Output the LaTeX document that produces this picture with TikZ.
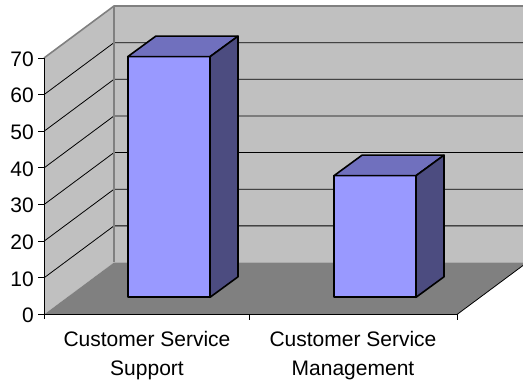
\documentclass[tikz,border=0pt]{standalone}
\usepackage{fontspec}
\setmainfont{Liberation Sans}
\definecolor{wallc}{RGB}{192,192,192}
\definecolor{floorc}{RGB}{128,128,128}
\definecolor{edgec}{RGB}{128,128,128}
\definecolor{barfront}{RGB}{153,153,255}
\definecolor{bartop}{RGB}{112,112,190}
\definecolor{barside}{RGB}{76,76,128}
\tikzset{
  grid/.style={draw=black,line width=0.8pt},
  wedge/.style={draw=edgec,line width=1.6pt},
  axisline/.style={draw=black,line width=1pt},
  barline/.style={draw=black,line width=1.6pt,line join=round},
  ylab/.style={anchor=east,inner sep=0pt,font=\fontsize{21}{25}\selectfont},
  xlab/.style={anchor=base,inner sep=0pt,font=\fontsize{21}{25}\selectfont},
}
\begin{document}
\begin{tikzpicture}[x=1pt,y=-1pt]
\useasboundingbox (0,0) rectangle (523,382);
\begin{scope}
\clip (0,0) rectangle (523,382);
% walls and floor
\fill[wallc] (44,58) -- (114,6) -- (114,262.5) -- (44,314.5) -- cycle;
\fill[wallc] (114,6) rectangle (540,262.5);
\fill[floorc] (44,314.5) -- (457,314.5) -- (527,262.5) -- (114,262.5) -- cycle;
% gridlines
\foreach \v in {10,20,...,60} {
  \draw[grid] (44,{314.5-3.664*\v}) -- (114,{262.5-3.664*\v}) -- (540,{262.5-3.664*\v});
}
% wall edges
\draw[wedge] (44,58) -- (114,6) -- (540,6);
\draw[wedge] (114,6) -- (114,262.5);
\draw[line width=0.8pt] (457,314.5) -- (527,262.5);
\end{scope}
% axes
\draw[axisline] (44,58) -- (44,319);
\draw[axisline] (44,314.5) -- (457,314.5);
\foreach \v in {0,10,...,70} {
  \draw[axisline] (38,{314.5-3.664*\v}) -- (44,{314.5-3.664*\v});
}
\draw[axisline] (249,314.5) -- (249,320);
\draw[axisline] (457,314.5) -- (457,320);
% y labels
\foreach \v in {0,10,...,70} {
  \node[ylab] (y\v) at (34,{315.5-3.664*\v}) {\v};
}
% bars
\foreach \xa/\xb/\yt in {127.7/210/56.7, 334/416/175.7} {
  \filldraw[barline,fill=barfront] (\xa,\yt) rectangle (\xb,297.3);
  \filldraw[barline,fill=bartop] (\xa,\yt) -- (\xa+28,\yt-20.5) -- (\xb+28,\yt-20.5) -- (\xb,\yt) -- cycle;
  \filldraw[barline,fill=barside] (\xb,\yt) -- (\xb+28,\yt-20.5) -- (\xb+28,297.3-20.5) -- (\xb,297.3) -- cycle;
}
% category labels
\node[xlab] (c1a) at (147,346.7) {Customer Service};
\node[xlab] (c1b) at (147,375.5) {Support};
\node[xlab] (c2a) at (353,346.7) {Customer Service};
\node[xlab] (c2b) at (353,375.5) {Management};
\end{tikzpicture}
\end{document}
